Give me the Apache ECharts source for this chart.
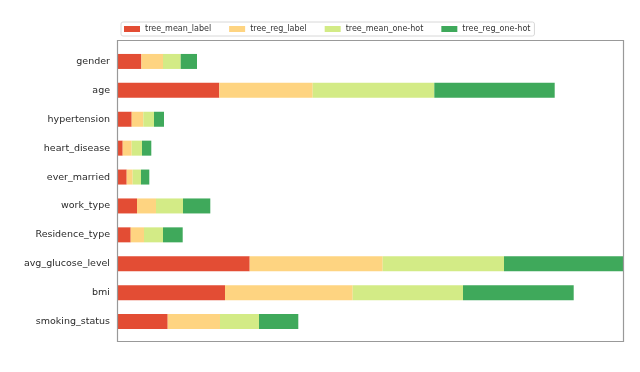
<!DOCTYPE html>
<html>
<head>
<meta charset="utf-8">
<script src="https://cdn.jsdelivr.net/npm/echarts@6/dist/echarts.min.js"></script>
<style>
    html, body { margin: 0; padding: 0; background: #fff; }
    #chart { width: 640px; height: 372px; }
</style>
</head>
<body>
<div id="chart"></div>
<script>
var features = ['gender', 'age', 'hypertension', 'heart_disease', 'ever_married',
    'work_type', 'Residence_type', 'avg_glucose_level', 'bmi', 'smoking_status'];

var seriesNames = ['tree_mean_label', 'tree_reg_label', 'tree_mean_one-hot', 'tree_reg_one-hot'];

var treeMeanLabel = [2.44, 10.23, 1.47, 0.57, 0.97, 2.00, 1.37, 13.27, 10.80, 5.07];
var treeRegLabel = [2.16, 9.34, 1.16, 0.90, 0.60, 1.90, 1.33, 13.30, 12.77, 5.23];
var treeMeanOneHot = [1.77, 12.16, 1.07, 1.03, 0.83, 2.70, 1.90, 12.13, 11.03, 3.90];
var treeRegOneHot = [1.63, 12.04, 1.00, 0.93, 0.83, 2.73, 1.97, 11.93, 11.07, 3.93];

var colors = ['#e34d34', '#fed481', '#d3eb86', '#3fa95b'];

var chart = echarts.init(document.getElementById('chart'));

function makeSeries(name, data, color) {
    return {
        name: name,
        type: 'bar',
        stack: 'total',
        barWidth: 15,
        data: data,
        itemStyle: { color: color },
        emphasis: { disabled: true }
    };
}

var option = {
    animation: false,
    color: colors,
    legend: {
        left: 121,
        top: 22,
        icon: 'rect',
        itemWidth: 16,
        itemHeight: 6,
        itemGap: 18,
        padding: [3, 4, 3, 3],
        borderColor: '#d8d8d8',
        borderWidth: 1,
        borderRadius: 2,
        textStyle: { fontFamily: 'DejaVu Sans', fontSize: 8, color: '#333' },
        data: seriesNames
    },
    grid: {
        left: 117,
        right: 16,
        top: 47,
        bottom: 36
    },
    xAxis: {
        type: 'value',
        min: 0,
        max: 50.7,
        show: false
    },
    yAxis: {
        type: 'category',
        inverse: true,
        data: features,
        axisLine: { show: false },
        axisTick: {
            alignWithLabel: true,
            length: 4,
            lineStyle: { color: '#444' }
        },
        axisLabel: {
            fontFamily: 'DejaVu Sans',
            fontSize: 9.5,
            color: '#2a2a2a',
            margin: 7
        }
    },
    graphic: [{
        type: 'rect',
        shape: { x: 117.5, y: 40.5, width: 506, height: 301 },
        style: { fill: null, stroke: '#999', lineWidth: 1.2 },
        silent: true,
        z: 10
    }],
    series: [
        makeSeries(seriesNames[0], treeMeanLabel, colors[0]),
        makeSeries(seriesNames[1], treeRegLabel, colors[1]),
        makeSeries(seriesNames[2], treeMeanOneHot, colors[2]),
        makeSeries(seriesNames[3], treeRegOneHot, colors[3])
    ]
};

chart.setOption(option);
</script>
</body>
</html>
